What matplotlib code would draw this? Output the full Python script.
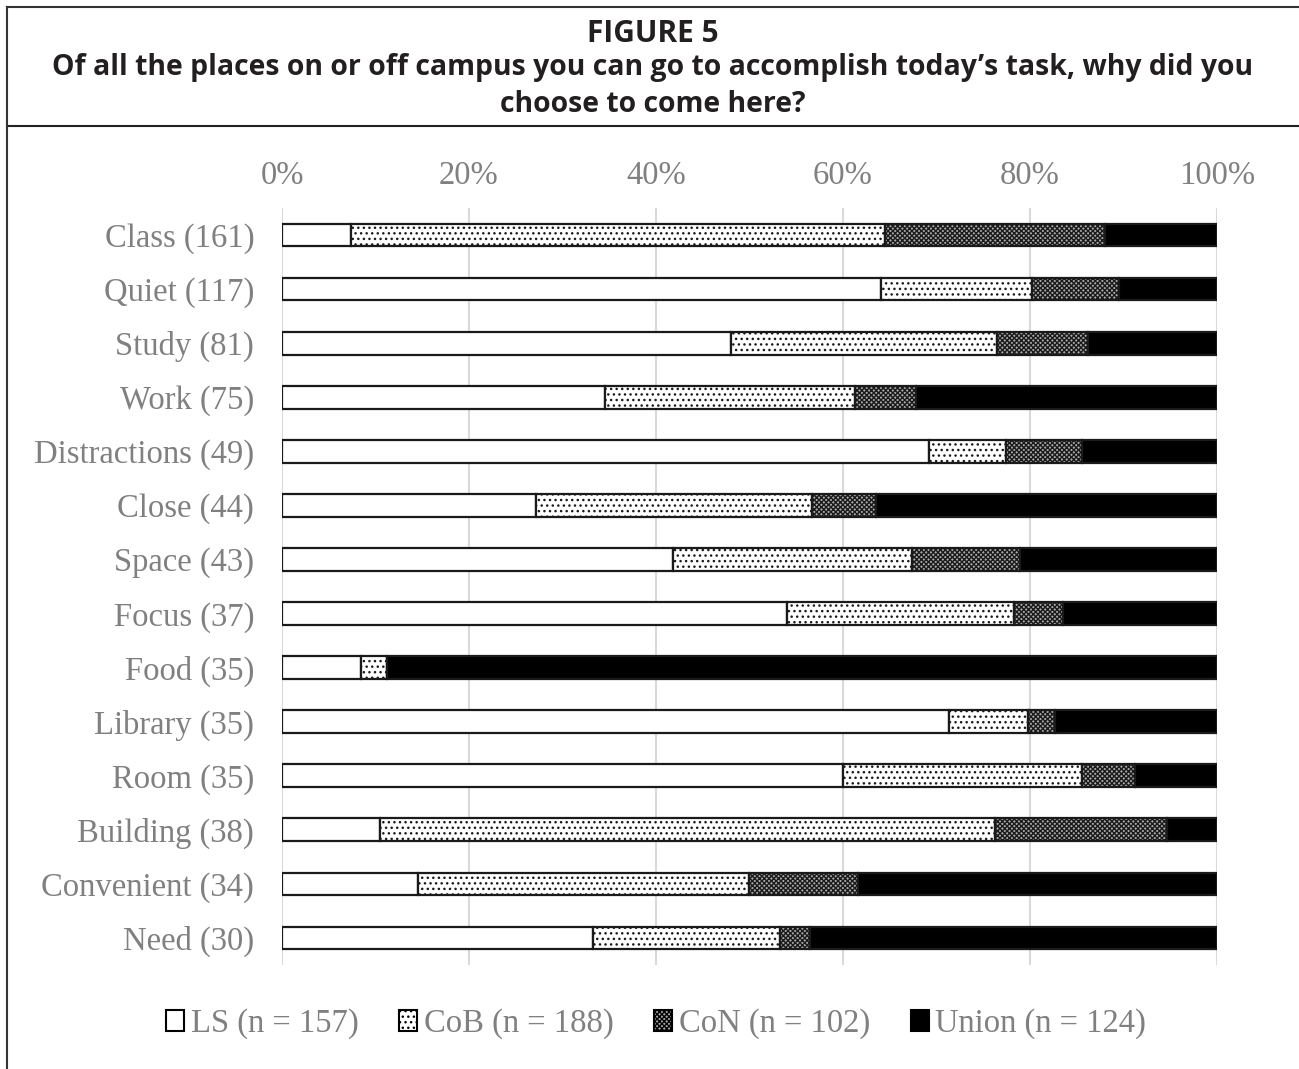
import matplotlib
matplotlib.use("Agg")
import matplotlib.pyplot as plt
from matplotlib.patches import Patch
from matplotlib.lines import Line2D
import numpy as np

plt.rcParams["hatch.linewidth"] = 1.0

# Reasons given, with number of responses
categories = ["Class (161)", "Quiet (117)", "Study (81)", "Work (75)",
              "Distractions (49)", "Close (44)", "Space (43)", "Focus (37)",
              "Food (35)", "Library (35)", "Room (35)", "Building (38)",
              "Convenient (34)", "Need (30)"]

# Share of each reason by location (percent)
ls_pct    = [7.4, 64.1, 48.0, 34.5, 69.2, 27.2, 41.8, 54.0, 8.4, 71.3, 60.0, 10.5, 14.5, 33.3]
cob_pct   = [57.1, 16.1, 28.5, 26.8, 8.2, 29.5, 25.6, 24.3, 2.8, 8.5, 25.6, 65.8, 35.4, 20.0]
con_pct   = [23.5, 9.3, 9.7, 6.5, 8.2, 6.8, 11.5, 5.2, 0.0, 2.9, 5.6, 18.4, 11.7, 3.2]
union_pct = [12.0, 10.5, 13.8, 32.2, 14.4, 36.5, 21.1, 16.5, 88.8, 17.3, 8.8, 5.3, 38.4, 43.5]

series_labels = ["LS (n = 157)", "CoB (n = 188)", "CoN (n = 102)", "Union (n = 124)"]
tick_values = [0, 20, 40, 60, 80, 100]

styles = [
    dict(facecolor="white", hatch=None),
    dict(facecolor="white", hatch="..."),
    dict(facecolor="#a8a8a8", hatch="xxxxxxx"),
    dict(facecolor="black", hatch=None),
]

gray = "#808080"
serif = "Liberation Serif"

fig = plt.figure(figsize=(12.99, 10.69), dpi=100)
W, H = 1299, 1069

ax = fig.add_axes([282 / W, 1 - 965 / H, (1217 - 282) / W, (965 - 208) / H])

y = np.arange(len(categories))
series = [ls_pct, cob_pct, con_pct, union_pct]
left = np.zeros(len(categories))
for vals, st in zip(series, styles):
    vals = np.array(vals, dtype=float)
    ax.barh(y, vals, left=left, height=0.42, facecolor=st["facecolor"],
            hatch=st["hatch"], edgecolor="#1a1a1a", linewidth=1.6, zorder=3)
    left += vals

ax.set_xlim(0, 100)
ax.set_ylim(len(categories) - 0.5, -0.5)
ax.set_xticks(tick_values)
ax.set_xticklabels([f"{v}%" for v in tick_values])
ax.xaxis.tick_top()
ax.set_yticks(y)
ax.set_yticklabels(categories)
ax.tick_params(axis="both", length=0, labelsize=23.5, labelcolor=gray)
ax.tick_params(axis="x", pad=12)
ax.tick_params(axis="y", pad=20)
for lab in ax.get_xticklabels() + ax.get_yticklabels():
    lab.set_fontfamily(serif)
ax.grid(axis="x", color="#d9d9d9", linewidth=1.5, zorder=0)
for s in ax.spines.values():
    s.set_visible(False)

# Legend
handles = []
for lab, st in zip(series_labels, styles):
    handles.append(Patch(facecolor=st["facecolor"], hatch=st["hatch"],
                         edgecolor="black", linewidth=1.5, label=lab))
fig.legend(handles=handles, loc="center", bbox_to_anchor=(656 / W, 1 - 1024 / H),
           ncol=4, frameon=False, handlelength=0.55, handleheight=0.6,
           handletextpad=0.2, columnspacing=1.25,
           prop={"family": serif, "size": 23.5}, labelcolor=gray)

# Title block
title_font = dict(family="Open Sans", weight="bold", color="#231f20",
                  ha="center", va="center")
fig.text(653 / W, 1 - 34 / H, "FIGURE 5", fontsize=21.5, **title_font)
fig.text(653 / W, 1 - 67 / H,
         "Of all the places on or off campus you can go to accomplish today\u2019s task, why did you",
         fontsize=20.4, **title_font)
fig.text(653 / W, 1 - 104 / H, "choose to come here?", fontsize=20.4, **title_font)

# Frame lines
fig.add_artist(Line2D([7 / W, 1], [1 - 7 / H, 1 - 7 / H], color="#333333", lw=1.5))
fig.add_artist(Line2D([7 / W, 1], [1 - 126 / H, 1 - 126 / H], color="#222222", lw=1.5))
fig.add_artist(Line2D([7 / W, 7 / W], [0, 1 - 7 / H], color="#333333", lw=1.5))

fig.savefig("out.png", dpi=100, facecolor="white")
